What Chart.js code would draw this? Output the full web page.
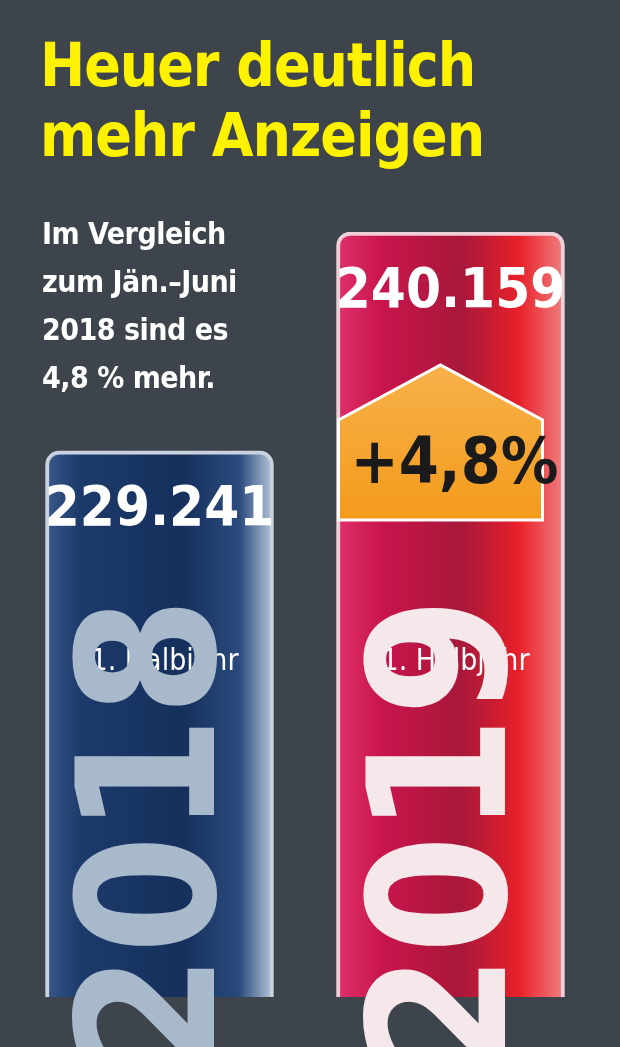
<!DOCTYPE html>
<html>
<head>
<meta charset="utf-8">
<script src="https://cdn.jsdelivr.net/npm/chart.js@4.4.1/dist/chart.umd.min.js"></script>
<style>
  html, body { margin: 0; padding: 0; background: #3e444c; }
  #wrap { position: relative; width: 620px; height: 1047px; overflow: hidden; }
  canvas { position: absolute; left: 0; top: 0; }
  .title { position: absolute; left: 40px; top: 30px; color: #fff200; font: bold 60px "Liberation Sans Narrow", "DejaVu Sans Condensed", sans-serif; line-height: 70px; letter-spacing: -1px; }
  .sub { position: absolute; left: 42px; top: 210px; color: #fff; font: bold 30px "Liberation Sans Narrow", "DejaVu Sans Condensed", sans-serif; line-height: 48px; letter-spacing: -0.5px; }
</style>
</head>
<body>
<div id="wrap">
  <canvas id="chart" width="620" height="1047"></canvas>
  <div class="title">Heuer deutlich<br>mehr Anzeigen</div>
  <div class="sub">Im Vergleich<br>zum Jän.–Juni<br>2018 sind es<br>4,8 % mehr.</div>
</div>
<script>
const years = ["2018", "2019"]
const values = [229241, 240159]
const valueLabels = ["229.241", "240.159"]
const periodLabels = ["1. Halbjahr", "1. Halbjahr"]
const changeLabel = "+4,8%"

const FONT = '"Liberation Sans Narrow", "DejaVu Sans Condensed", sans-serif'
const BAR_W = 228

function barGradient(ctx, i) {
  const chart = ctx.chart
  const xs = chart.scales && chart.scales.x
  const fallback = i === 0 ? "#1c3a6a" : "#c8154c"
  if (!xs) return fallback
  const cx = xs.getPixelForValue(i)
  if (!isFinite(cx)) return fallback
  const x0 = cx - BAR_W / 2, x1 = cx + BAR_W / 2
  const g = chart.ctx.createLinearGradient(x0, 0, x1, 0)
  if (i === 0) {
    g.addColorStop(0, "#3a5a8c"); g.addColorStop(0.15, "#1c3a6a"); g.addColorStop(0.6, "#16305c"); g.addColorStop(0.85, "#2a4a7c"); g.addColorStop(1, "#b8c8dc")
  } else {
    g.addColorStop(0, "#e0306a"); g.addColorStop(0.2, "#c8154c"); g.addColorStop(0.55, "#a8183a"); g.addColorStop(0.8, "#e8202a"); g.addColorStop(1, "#f08080")
  }
  return g
}

const labelsPlugin = {
  id: "labels",
  afterDatasetsDraw(chart) {
    const c = chart.ctx
    chart.getDatasetMeta(0).data.forEach((bar, i) => {
      const x = bar.x
      c.save()
      c.fillStyle = "#fff"
      c.textAlign = "center"
      c.textBaseline = "middle"
      c.font = "bold 56px " + FONT
      c.fillText(valueLabels[i], x, bar.y + 60)
      c.font = "30px " + FONT
      c.fillText(periodLabels[i], x + 5, 662)
      c.translate(x + 5, 835)
      c.rotate(-Math.PI / 2)
      c.font = "bold 190px " + FONT
      c.fillStyle = i === 0 ? "#a9b9cc" : "#f4e8ea"
      c.fillText(years[i], 0, 0)
      c.restore()
    })
    const b = chart.getDatasetMeta(0).data[1]
    const l = b.x - b.width / 2 + 2, r = b.x + b.width / 2 - 22
    c.save()
    const g = c.createLinearGradient(0, 365, 0, 520)
    g.addColorStop(0, "#f7b24a"); g.addColorStop(1, "#f39a1c")
    c.fillStyle = g
    c.strokeStyle = "#fff"
    c.lineWidth = 3
    c.beginPath()
    c.moveTo(l, 420); c.lineTo((l + r) / 2, 365); c.lineTo(r, 420); c.lineTo(r, 520); c.lineTo(l, 520); c.closePath()
    c.fill(); c.stroke()
    c.fillStyle = "#1a1a1a"
    c.textAlign = "center"; c.textBaseline = "middle"
    c.font = "bold 64px " + FONT
    c.fillText(changeLabel, (l + r) / 2 + 14, 466)
    c.restore()
  }
}

new Chart(document.getElementById("chart"), {
  type: "bar",
  data: {
    labels: years,
    datasets: [{
      data: values,
      backgroundColor: (ctx) => barGradient(ctx, ctx.dataIndex),
      borderColor: ["#c9d3e0", "#f0d0d8"],
      borderWidth: 4,
      borderRadius: 14,
      borderSkipped: false,
      barThickness: BAR_W,
    }],
  },
  options: {
    responsive: false,
    animation: false,
    layout: { padding: { left: 14, right: 24, top: 232, bottom: 50 } },
    plugins: { legend: { display: false }, tooltip: { enabled: false } },
    scales: {
      x: { display: false },
      y: { display: false, min: 202000, max: 240159 },
    },
  },
  plugins: [labelsPlugin],
})
</script>
</body>
</html>
